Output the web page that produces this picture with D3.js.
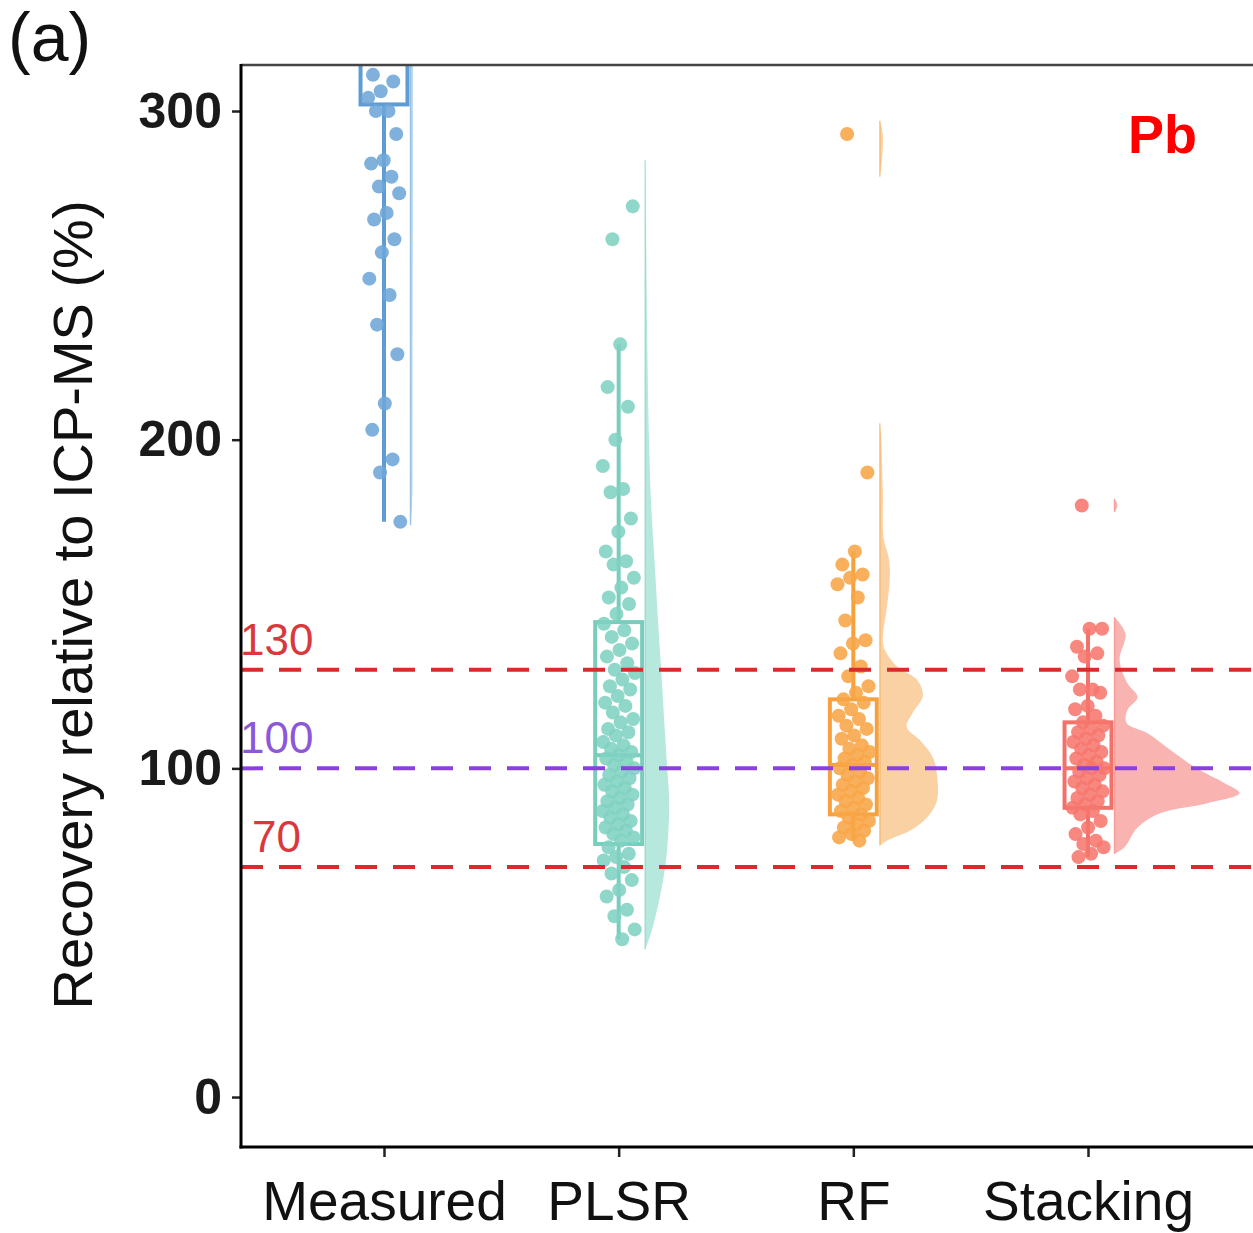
<!DOCTYPE html>
<html>
<head>
<meta charset="utf-8">
<script src="https://cdn.jsdelivr.net/npm/d3@7"></script>
<style>
  body { margin: 0; background: #fff; }
  text { font-family: "Liberation Sans", Arial, sans-serif; }
</style>
</head>
<body>
<div id="chart"></div>
<script>
// ===== data ==========================================================================
const categories = ['Measured', 'PLSR', 'RF', 'Stacking'];
const yTicks = [0, 100, 200, 300];
const refLines = [130, 100, 70];

// recovery values per sample (%)
const measuredVals = [335, 326, 318, 311, 309, 306, 304, 300, 300, 293, 285, 284, 280, 277, 275, 269, 267,
    261, 257, 249, 244, 235, 226, 211, 203, 194, 190, 175];
const plsrVals = [261, 271, 229, 216, 210, 200, 192, 185, 184, 176, 172, 166, 163, 162, 158, 155, 152, 150, 147,
    144, 142, 140, 138, 136, 134, 132, 130, 129, 127, 125, 124, 122, 120, 119, 117, 115, 114, 112, 111, 110,
    108, 107, 106, 105, 104, 103, 102, 101, 100, 99, 98, 97, 96, 95, 94, 93, 92, 91, 90, 89, 88, 87, 86, 85,
    84, 83, 82, 81, 80, 79, 78, 76, 74, 73, 72, 70, 68, 66, 63, 61, 57, 55, 51, 48];
const rfVals = [293, 190, 166, 162, 159, 158, 156, 152, 145, 139, 138, 135, 131, 128, 125, 123, 121, 120, 118,
    116, 115, 113, 112, 110, 109, 107, 106, 105, 104, 103, 102, 101, 100, 99, 98, 97, 96, 95, 94, 93, 92, 91,
    90, 89, 88, 87, 86, 85, 84, 83, 82, 81, 80, 79, 78];
const stackVals = [180, 142.5, 142.5, 137, 135, 134, 128, 124, 124, 123, 119, 118, 116, 114, 113, 112, 111, 110,
    109, 108, 107, 106, 105, 104, 103, 102, 101, 100, 100, 99, 98, 97, 96, 95, 94, 93, 92, 91, 90, 89, 88, 87,
    86, 84, 82, 80, 78, 77, 76, 74, 73];

// box stats: [whiskerLow, q1, median, q3, whiskerHigh]
const measuredBox = [175, 302, 328, 390, 480];
const plsrBox = [48, 77, 104, 144.5, 229];
const rfBox = [78, 86, 101, 121, 166];
const stackBox = [73, 88, 100, 114, 142.5];

// half-violin profiles: [value, relative density], one array per piece
const measuredViolin = [[[174, 0], [180, 0.012], [220, 0.016], [260, 0.018], [300, 0.02], [340, 0.02]]];
const plsrViolin = [[[285, 0], [260, 0.008], [230, 0.016], [200, 0.03], [180, 0.047], [160, 0.078],
    [145, 0.10], [130, 0.125], [115, 0.148], [100, 0.172], [90, 0.188], [80, 0.18], [70, 0.156],
    [60, 0.11], [50, 0.047], [45, 0]]];
const rfViolin = [
    [[76.5, 0], [78, 0.055], [81, 0.234], [85, 0.367], [90, 0.445], [98.6, 0.445], [103.4, 0.414],
     [108.6, 0.312], [112.6, 0.21], [117, 0.258], [122, 0.336], [127, 0.289], [131, 0.133], [136, 0.04],
     [139, 0.023], [149, 0.055], [158, 0.078], [164, 0.07], [170, 0.03], [185, 0.023], [202, 0.008], [205, 0]],
    [[280, 0], [285, 0.016], [293, 0.023], [297, 0]]
];
const stackViolin = [
    [[74, 0], [76, 0.078], [82, 0.18], [86.4, 0.36], [89.4, 0.727], [92.5, 0.977], [95.5, 0.86],
     [100.4, 0.625], [105.6, 0.437], [110.7, 0.258], [113.8, 0.094], [117.7, 0.1], [121.7, 0.18],
     [126, 0.1], [133, 0.04], [141, 0.086], [146, 0]],
    [[178, 0], [180, 0.023], [182, 0]]
];

const groups = [
    {name: 'Measured', vals: measuredVals, box: measuredBox, violin: measuredViolin,
     col: '#6ea6d8', line: '#5e9cd3', vfill: '#b9d6ef'},
    {name: 'PLSR', vals: plsrVals, box: plsrBox, violin: plsrViolin,
     col: '#7fd1c1', line: '#78cdbc', vfill: '#aee6da'},
    {name: 'RF', vals: rfVals, box: rfBox, violin: rfViolin,
     col: '#f8a545', line: '#f6a03e', vfill: '#f9cc98'},
    {name: 'Stacking', vals: stackVals, box: stackBox, violin: stackViolin,
     col: '#f6766d', line: '#f2716a', vfill: '#f8aca8'}
];

// ===== layout ========================================================================
const svgWidth = 1253;
const svgHeight = 1233;
const plot = {left: 241, right: 1253, top: 65, bottom: 1147};

const svg = d3.select('#chart').append('svg')
    .attr('width', svgWidth)
    .attr('height', svgHeight)
    .style('background', '#fff');

const yScale = d3.scaleLinear().domain([-15.2, 314]).range([plot.bottom, plot.top]);
const xScale = d3.scalePoint().domain(categories).range([384, 1088]);
const step = xScale.step();
const boxW = step * 0.2;
const violinOff = step * 0.113;
const jitterW = step * 0.07;
const dens = d3.scaleLinear().domain([0, 1]).range([0, 128]);

svg.append('clipPath').attr('id', 'clip')
    .append('rect')
    .attr('x', plot.left).attr('y', plot.top)
    .attr('width', plot.right - plot.left).attr('height', plot.bottom - plot.top);

const gPlot = svg.append('g').attr('clip-path', 'url(#clip)');

// deterministic jitter (golden ratio sequence)
const jitter = i => ((i * 0.61803 + 0.31) % 1) * 2 - 1;

groups.forEach(g => {
    const cx = xScale(g.name);
    const base = cx + violinOff;

    // half violin
    const area = d3.area()
        .y(d => yScale(d[0]))
        .x0(base)
        .x1(d => base + dens(d[1]))
        .curve(d3.curveCatmullRom.alpha(0.5));
    g.violin.forEach(piece => {
        gPlot.append('path')
            .attr('d', area(piece))
            .attr('fill', g.vfill)
            .attr('fill-opacity', 0.9);
        gPlot.append('line')
            .attr('x1', base).attr('x2', base)
            .attr('y1', yScale(d3.min(piece, d => d[0])))
            .attr('y2', yScale(d3.max(piece, d => d[0])))
            .attr('stroke', g.line)
            .attr('stroke-opacity', 0.55)
            .attr('stroke-width', 1.5);
    });

    // box + whiskers
    const [wlo, q1, med, q3, whi] = g.box;
    const boxG = gPlot.append('g')
        .attr('stroke', g.line)
        .attr('stroke-width', 4)
        .attr('fill', 'none');
    boxG.append('line')
        .attr('x1', cx).attr('x2', cx)
        .attr('y1', yScale(q3)).attr('y2', yScale(whi));
    boxG.append('line')
        .attr('x1', cx).attr('x2', cx)
        .attr('y1', yScale(q1)).attr('y2', yScale(wlo));
    boxG.append('rect')
        .attr('x', cx - boxW / 2).attr('width', boxW)
        .attr('y', yScale(q3)).attr('height', yScale(q1) - yScale(q3));
    boxG.append('line')
        .attr('x1', cx - boxW / 2).attr('x2', cx + boxW / 2)
        .attr('y1', yScale(med)).attr('y2', yScale(med));

    // points
    gPlot.append('g').selectAll('circle')
        .data(g.vals)
        .enter()
        .append('circle')
        .attr('cx', (d, i) => cx + jitter(i) * jitterW)
        .attr('cy', d => yScale(d))
        .attr('r', 7)
        .attr('fill', g.col)
        .attr('fill-opacity', 0.88);
});

// reference lines
const refColor = {130: '#dc2a2c', 100: '#8a3fe0', 70: '#dc2a2c'};
const refText = {130: '#d9383d', 100: '#8c58d8', 70: '#d9383d'};
gPlot.selectAll('.ref')
    .data(refLines)
    .enter()
    .append('line')
    .attr('class', 'ref')
    .attr('x1', plot.left).attr('x2', plot.right)
    .attr('y1', d => yScale(d)).attr('y2', d => yScale(d))
    .attr('stroke', d => refColor[d])
    .attr('stroke-width', 4)
    .attr('stroke-dasharray', '22,16');

svg.selectAll('.refLab')
    .data(refLines)
    .enter()
    .append('text')
    .attr('class', 'refLab')
    .attr('x', d => d == 70 ? 252 : 240)
    .attr('y', d => yScale(d) - 15)
    .attr('font-size', 44)
    .attr('fill', d => refText[d])
    .text(d => d);

// ===== axes ==========================================================================
const gLeftAxis = svg.append('g').attr('transform', `translate(${plot.left},0)`)
    .call(d3.axisLeft(yScale).tickValues(yTicks).tickSize(9).tickPadding(10));
gLeftAxis.select('.domain').remove();
gLeftAxis.selectAll('.tick line').attr('stroke', '#222').attr('stroke-width', 2.5);
gLeftAxis.selectAll('text')
    .attr('font-size', 50)
    .attr('font-weight', 'bold')
    .attr('fill', '#1a1a1a')
    .style('font-family', '"Liberation Sans", Arial, sans-serif');

const gBottomAxis = svg.append('g').attr('transform', `translate(0,${plot.bottom})`)
    .call(d3.axisBottom(xScale).tickSize(10).tickPadding(24));
gBottomAxis.select('.domain').remove();
gBottomAxis.selectAll('.tick line').attr('stroke', '#222').attr('stroke-width', 2.5);
gBottomAxis.selectAll('text')
    .attr('font-size', 55)
    .attr('fill', '#111')
    .style('font-family', '"Liberation Sans", Arial, sans-serif');

// panel border
svg.append('line')
    .attr('x1', plot.left).attr('x2', plot.right)
    .attr('y1', plot.top).attr('y2', plot.top)
    .attr('stroke', '#444').attr('stroke-width', 2.5);
svg.append('line')
    .attr('x1', plot.left).attr('x2', plot.left)
    .attr('y1', plot.top - 1).attr('y2', plot.bottom + 1.5)
    .attr('stroke', '#000').attr('stroke-width', 3);
svg.append('line')
    .attr('x1', plot.left - 1.5).attr('x2', plot.right)
    .attr('y1', plot.bottom).attr('y2', plot.bottom)
    .attr('stroke', '#000').attr('stroke-width', 3);

// titles
svg.append('text')
    .attr('transform', `translate(92,${(195 + 1015) / 2}) rotate(-90)`)
    .attr('text-anchor', 'middle')
    .attr('font-size', 56)
    .attr('fill', '#111')
    .text('Recovery relative to ICP-MS (%)');

svg.append('text')
    .attr('x', 8).attr('y', 61)
    .attr('font-size', 68)
    .attr('fill', '#111')
    .text('(a)');

svg.append('text')
    .attr('x', 1128).attr('y', 153)
    .attr('font-size', 54)
    .attr('font-weight', 'bold')
    .attr('fill', '#ff0000')
    .text('Pb');
</script>
</body>
</html>
